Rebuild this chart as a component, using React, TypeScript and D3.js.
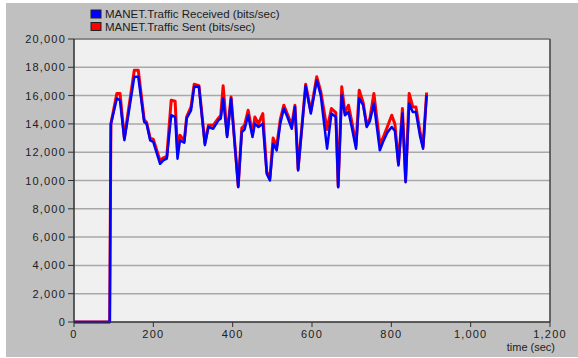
import React from "react";
import * as d3 from "d3";

const times = [0, 90, 93, 108, 116, 127, 152, 162, 177, 183, 192, 200, 217, 225, 234, 245, 255, 261, 267, 278, 284, 295, 303, 315, 330, 339, 351, 364, 370, 376, 386, 396, 414, 423, 430, 439, 450, 456, 465, 476, 486, 494, 502, 511, 520, 529, 538, 549, 557, 565, 584, 597, 612, 622, 638, 649, 660, 666, 675, 683, 692, 700, 711, 719, 729, 738, 746, 756, 771, 779, 790, 801, 809, 818, 828, 836, 845, 854, 862, 872, 880, 889];
const received = [0, 0, 14000, 15800, 15670, 12850, 17330, 17330, 14130, 14020, 12840, 12720, 11180, 11420, 11540, 14610, 14490, 11540, 12840, 12670, 14380, 14960, 16620, 16620, 12500, 13780, 13660, 14250, 14380, 15790, 13070, 15790, 9530, 13430, 13600, 14610, 13070, 14020, 13780, 14020, 10470, 10000, 12600, 12130, 14020, 15090, 14490, 13660, 15200, 10710, 16680, 14730, 17090, 16030, 12250, 14730, 14490, 9530, 16030, 14610, 14840, 13800, 12250, 15790, 15320, 13780, 14200, 15440, 12130, 12720, 13400, 13780, 13500, 11060, 14730, 9880, 15440, 14840, 14840, 13190, 12250, 16030];
const sent = [0, 0, 14000, 16150, 16150, 13000, 17800, 17800, 14300, 14100, 13000, 12900, 11400, 11600, 11700, 15670, 15600, 12000, 13200, 12800, 14500, 15200, 16800, 16700, 12650, 13900, 13900, 14400, 14600, 16690, 13200, 15900, 9600, 13700, 13900, 14960, 13300, 14490, 14000, 14730, 10600, 10200, 13000, 12400, 14300, 15320, 14700, 13900, 15320, 10800, 16800, 14900, 17330, 16300, 13600, 15090, 14800, 9600, 16620, 14800, 15320, 14200, 12500, 16380, 15500, 13900, 14400, 16150, 12600, 13000, 13800, 14610, 14000, 11200, 15090, 9950, 16150, 15200, 15200, 13500, 12400, 16220];
const xTicks = [0, 200, 400, 600, 800, 1000, 1200];
const yTicks = [0, 2000, 4000, 6000, 8000, 10000, 12000, 14000, 16000, 18000, 20000];
const seriesNames = ["MANET.Traffic Received (bits/sec)", "MANET.Traffic Sent (bits/sec)"];
const seriesColors = ["#0000ff", "#ff0000"];

export default function App() {
  const W = 578, H = 358;
  const L = 74, R = 550, T = 39, B = 322;
  const x = d3.scaleLinear().domain([0, 1200]).range([L, R]);
  const y = d3.scaleLinear().domain([0, 20000]).range([B, T]);
  const fmt = d3.format(",");
  const line = d3.line<number>().x((_, i) => x(times[i])).y((d) => y(d));
  const font = "'Liberation Sans', Arial, sans-serif";
  return (
    <svg width={W} height={H} style={{ position: "absolute", left: 0, top: 0 }} fontFamily={font}>
      <rect x={0} y={0} width={W} height={H} fill="#ffffff" />
      <rect x={6} y={3} width={W - 6} height={H - 4} fill="#c0c0c0" />
      <rect x={L} y={T} width={R - L} height={B - T} fill="#f0f0f0" />
      {yTicks.slice(1).map((t) => (
        <line key={t} x1={L} x2={R} y1={y(t)} y2={y(t)} stroke="#a8a8a8" strokeWidth={1.5} />
      ))}
      <line x1={R} x2={R} y1={T} y2={B} stroke="#404040" strokeWidth={1.5} />
      <line x1={L} x2={R} y1={T} y2={T} stroke="#606060" strokeWidth={1} />
      <path d={line(sent) || ""} fill="none" stroke={seriesColors[1]} strokeWidth={3} strokeLinejoin="round" />
      <path d={line(received) || ""} fill="none" stroke={seriesColors[0]} strokeWidth={2.5} strokeLinejoin="round" />
      <line x1={L} x2={L} y1={T} y2={B} stroke="#303030" strokeWidth={1.5} />
      <line x1={L} x2={R} y1={B} y2={B} stroke="#303030" strokeWidth={1.5} />
      {yTicks.map((t) => (
        <g key={t}>
          <line x1={L - 6} x2={L} y1={y(t)} y2={y(t)} stroke="#303030" />
          <text x={L - 8} y={y(t) + 4} textAnchor="end" fontSize={11} letterSpacing={1.2} fill="#202020">{fmt(t)}</text>
        </g>
      ))}
      {xTicks.map((t) => (
        <g key={t}>
          <line x1={x(t)} x2={x(t)} y1={B} y2={B + 5} stroke="#303030" />
          <text x={x(t)} y={B + 16} textAnchor="middle" fontSize={11} letterSpacing={1.2} fill="#202020">{fmt(t)}</text>
        </g>
      ))}
      <text x={R + 5} y={B + 29} textAnchor="end" fontSize={11} fill="#202020">time (sec)</text>
      {seriesNames.map((n, i) => (
        <g key={n}>
          <rect x={91} y={10 + i * 12.5} width={10} height={8} fill={seriesColors[i]} stroke="#202020" strokeWidth={1} />
          <text x={105} y={18 + i * 12.5} fontSize={11.5} fill="#202020">{n}</text>
        </g>
      ))}
    </svg>
  );
}
